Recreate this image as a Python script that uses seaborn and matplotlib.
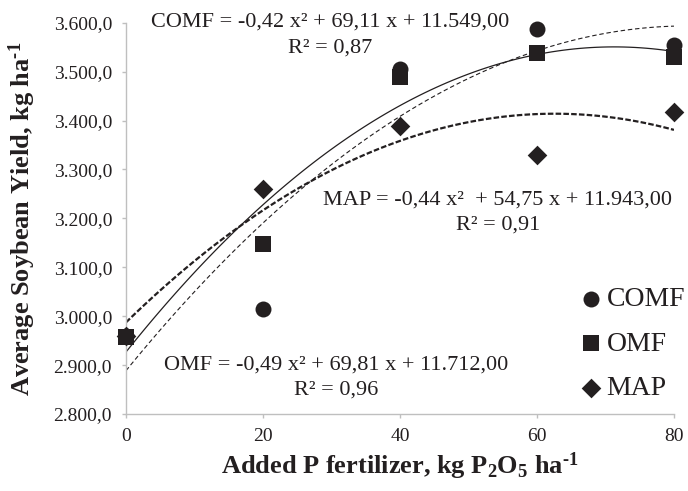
import numpy as np
import pandas as pd
import seaborn as sns
import matplotlib
matplotlib.use("Agg")
from matplotlib import pyplot as plt

# data (kg ha-1)
doses = [0, 20, 40, 60, 80]
comf = [2960, 3015, 3506, 3588, 3554]
omf = [2957, 3148, 3488, 3538, 3530]
map_ = [2960, 3261, 3388, 3329, 3418]

y_ticks = [2800, 2900, 3000, 3100, 3200, 3300, 3400, 3500, 3600]
y_tick_labels = ["2.800,0", "2.900,0", "3.000,0", "3.100,0", "3.200,0",
                 "3.300,0", "3.400,0", "3.500,0", "3.600,0"]
x_ticks = [0, 20, 40, 60, 80]

eq_comf = ["COMF = -0,42 x\u00b2 + 69,11 x + 11.549,00", "R\u00b2 = 0,87"]
eq_omf = ["OMF = -0,49 x\u00b2 + 69,81 x + 11.712,00", "R\u00b2 = 0,96"]
eq_map = ["MAP = -0,44 x\u00b2  + 54,75 x + 11.943,00", "R\u00b2 = 0,91"]

ink = "#231F20"
grey = "#BFBFBF"

sns.set_theme(style="ticks")
plt.rcParams["font.family"] = ["Liberation Serif", "DejaVu Serif"]
plt.rcParams["mathtext.fontset"] = "custom"
plt.rcParams["mathtext.rm"] = "Liberation Serif"
plt.rcParams["mathtext.it"] = "Liberation Serif:italic"
plt.rcParams["mathtext.bf"] = "Liberation Serif:bold"

fig = plt.figure(figsize=(6.88, 4.91), dpi=100)
ax = fig.add_axes([0.1831, 0.1568, 0.7965, 0.797])

# quadratic trend lines
sns.regplot(x=doses, y=comf, order=2, ci=None, scatter=False, ax=ax,
            line_kws=dict(color=ink, lw=0.8, linestyle=(0, (4, 2.5))))
sns.regplot(x=doses, y=omf, order=2, ci=None, scatter=False, ax=ax,
            line_kws=dict(color=ink, lw=0.9, linestyle="-"))
sns.regplot(x=doses, y=map_, order=2, ci=None, scatter=False, ax=ax,
            line_kws=dict(color=ink, lw=1.6, linestyle=(0, (2.5, 1))))

# points
sns.scatterplot(x=doses, y=map_, marker="D", s=100, color=ink, linewidth=0,
                ax=ax, clip_on=False, zorder=5, label="MAP")
sns.scatterplot(x=doses, y=comf, marker="o", s=132, color=ink, linewidth=0,
                ax=ax, clip_on=False, zorder=5, label="COMF")
sns.scatterplot(x=doses, y=omf, marker="s", s=128, color=ink, linewidth=0,
                ax=ax, clip_on=False, zorder=6, label="OMF")

ax.set_xlim(0, 80)
ax.set_ylim(2800, 3600)
ax.set_xticks(x_ticks)
ax.set_xticklabels([str(v) for v in x_ticks])
ax.set_yticks(y_ticks)
ax.set_yticklabels(y_tick_labels)

for side in ["top", "right"]:
    ax.spines[side].set_visible(False)
for side in ["left", "bottom"]:
    ax.spines[side].set_color(grey)
    ax.spines[side].set_linewidth(1.0)
ax.tick_params(axis="both", colors=grey, labelcolor=ink, labelsize=14,
               length=3, width=1)
ax.tick_params(axis="x", pad=7)
ax.tick_params(axis="y", pad=7)

# hyphen (U+2010) instead of the long math minus in the units
ax.set_xlabel("Added P fertilizer, kg P$_{\\mathbf{2}}$O$_{\\mathbf{5}}$ ha$^{\\mathbf{\u20101}}$",
              fontsize=19, fontweight="bold", color=ink, labelpad=4)
ax.set_ylabel("Average Soybean Yield, kg ha$^{\\mathbf{\u20101}}$",
              fontsize=19, fontweight="bold", color=ink, labelpad=11)

# equations
ax.text(29.8, 3601, eq_comf[0], ha="center", va="center", fontsize=16, color=ink)
ax.text(29.8, 3548, eq_comf[1], ha="center", va="center", fontsize=16, color=ink)
ax.text(54.3, 3237, eq_map[0], ha="center", va="center", fontsize=16, color=ink)
ax.text(54.3, 3186, eq_map[1], ha="center", va="center", fontsize=16, color=ink)
ax.text(30.7, 2900, eq_omf[0], ha="center", va="center", fontsize=16, color=ink)
ax.text(30.7, 2849, eq_omf[1], ha="center", va="center", fontsize=16, color=ink)

handles, labels = ax.get_legend_handles_labels()
order = [labels.index(n) for n in ["COMF", "OMF", "MAP"]]
ax.legend([handles[i] for i in order], [labels[i] for i in order],
          loc="lower left", bbox_to_anchor=(0.833, 0.033), frameon=False,
          fontsize=20, handlelength=0.6, handletextpad=0.27,
          labelspacing=0.68, borderpad=0, borderaxespad=0,
          labelcolor=ink)

fig.savefig("out.png", dpi=100)
